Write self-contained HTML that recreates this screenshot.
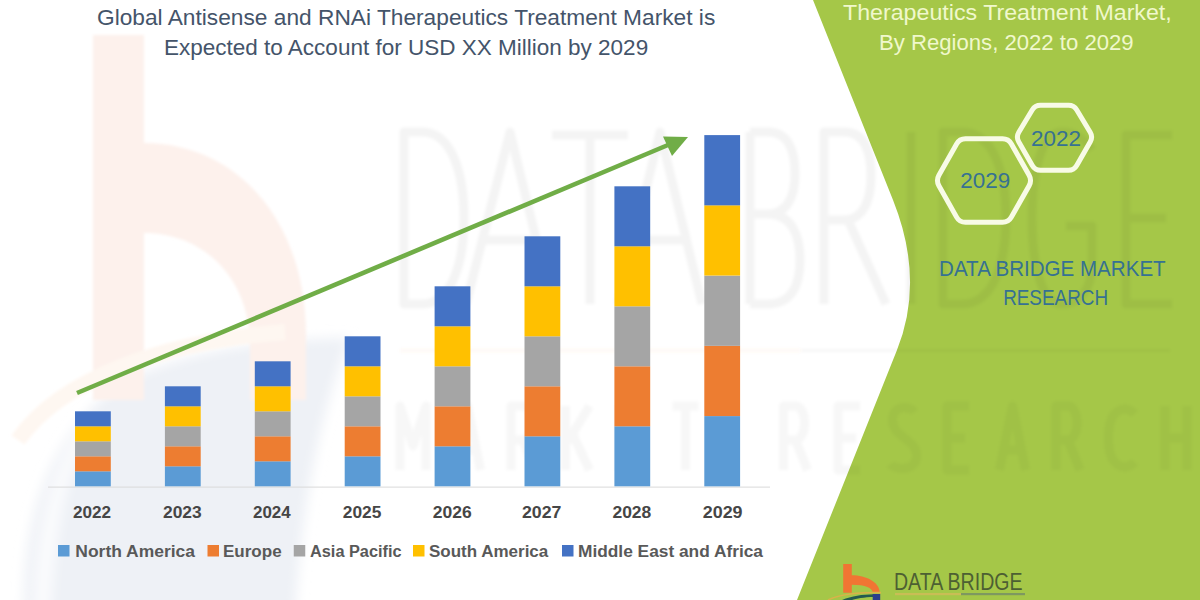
<!DOCTYPE html>
<html><head><meta charset="utf-8">
<style>
html,body{margin:0;padding:0;width:1200px;height:600px;overflow:hidden;background:#fff;}
svg{display:block;}
text{font-family:"Liberation Sans",sans-serif;}
</style></head>
<body>
<svg width="1200" height="600" viewBox="0 0 1200 600">
<rect x="0" y="0" width="1200" height="600" fill="#ffffff"/>
<g id="wm">
<defs><filter id="bl" x="-20%" y="-20%" width="140%" height="140%"><feGaussianBlur stdDeviation="1.5"/></filter><filter id="bl3" x="-20%" y="-20%" width="140%" height="140%"><feGaussianBlur stdDeviation="6"/></filter></defs>
<g filter="url(#bl3)">
<path d="M24,600 C24,500 60,420 130,378 C200,346 290,338 350,338 L340,365 C318,430 300,510 293,650 L24,650 Z" fill="#eef1f6"/>
<path d="M34,600 C36,520 55,460 85,420 L95,425 C70,465 52,520 50,650 L34,650 Z" fill="#fafbfd"/>
</g>
<g filter="url(#bl)">
<path d="M93,35 L144,35 L144,143 C236,143 306,220 306,335 L306,400 L250,400 L250,345 C250,280 205,233 144,233 L144,400 L93,400 Z" fill="#fdf1ec"/>
<path d="M18,440 C60,380 160,342 285,332" fill="none" stroke="#fef7f1" stroke-width="16"/>
</g>

</g>
<path d="M813,0 L893,200 Q925,280 897,350 L797,600 L1200,600 L1200,0 Z" fill="#a5c748"/>
<g id="wm2">
<defs><filter id="bl2" x="-10%" y="-10%" width="120%" height="120%"><feGaussianBlur stdDeviation="1.5"/></filter></defs>
<g filter="url(#bl2)">
<g fill="none" stroke="#000" stroke-opacity="0.045" stroke-width="9" stroke-linejoin="round">
<path d="M404,132 L404,304 L422,304 C452,304 464,262 464,218 C464,174 452,132 422,132 Z"/>
<path d="M466,304 L510,132 L552,304 M483,240 L536,240"/>
<path d="M552,135 L628,135 M590,135 L590,304"/>
<path d="M618,304 L660,132 L702,304 M634,240 L686,240"/>
<path d="M750,132 L750,304 M750,132 L768,132 C788,132 795,150 795,174 C795,198 786,214 768,214 L750,214 M768,214 C792,214 800,236 800,260 C800,288 790,304 768,304 L750,304"/>
<path d="M824,304 L824,132 L844,132 C864,132 871,150 871,176 C871,204 861,220 844,220 L824,220 M848,220 L886,304"/>
<path d="M911,132 L911,304"/>
<path d="M943,304 L943,132 L962,132 C994,132 1006,174 1006,218 C1006,262 994,304 962,304 Z"/>
<path d="M1092,150 C1084,138 1074,132 1062,132 C1042,132 1032,170 1032,218 C1032,266 1042,304 1062,304 C1080,304 1092,290 1092,262 L1092,226 L1066,226"/>
<path d="M1172,135 L1126,135 L1126,304 L1172,304 M1126,218 L1166,218"/>
</g>
<g fill="none" stroke="#000" stroke-opacity="0.03" stroke-width="9" stroke-linejoin="round">
<path d="M400.0,470 L400.0,406 L413.0,446.0 L426.0,406 L426.0,470"/>
<path d="M454.5,470 L467.5,406 L480.5,470 M460.5,450 L474.5,450"/>
<path d="M511.0,470 L511.0,406 L523.0,406 C535.0,406 535.0,440.0 523.0,440.0 L511.0,440.0 M523.0,440.0 L535.0,470"/>
<path d="M565.5,470 L565.5,406 M589.5,406 L567.5,442.0 M573.5,436.0 L589.5,470"/>
<path d="M642.0,406 L620.0,406 L620.0,470 L642.0,470 M620.0,438.0 L638.0,438.0"/>
<path d="M672.5,406 L698.5,406 M685.5,406 L685.5,470"/>
<path d="M783.5,470 L783.5,406 L795.5,406 C807.5,406 807.5,440.0 795.5,440.0 L783.5,440.0 M795.5,440.0 L807.5,470"/>
<path d="M860.0,406 L838.0,406 L838.0,470 L860.0,470 M838.0,438.0 L856.0,438.0"/>
<path d="M914.5,412 C910.5,406 892.5,404 892.5,420 C892.5,438.0 916.5,438.0 916.5,456 C916.5,472 894.5,470 890.5,464"/>
<path d="M969.0,406 L947.0,406 L947.0,470 L969.0,470 M947.0,438.0 L965.0,438.0"/>
<path d="M999.5,470 L1012.5,406 L1025.5,470 M1005.5,450 L1019.5,450"/>
<path d="M1056.0,470 L1056.0,406 L1068.0,406 C1080.0,406 1080.0,440.0 1068.0,440.0 L1056.0,440.0 M1068.0,440.0 L1080.0,470"/>
<path d="M1134.5,414 C1128.5,406 1108.5,404 1108.5,438.0 C1108.5,472 1128.5,470 1134.5,462"/>
<path d="M1165.0,406 L1165.0,470 M1187.0,406 L1187.0,470 M1165.0,438.0 L1187.0,438.0"/>
</g>
<rect x="400" y="349" width="400" height="3" fill="#f58a3c" fill-opacity="0.06"/>
<rect x="800" y="349" width="370" height="3" fill="#000" fill-opacity="0.03"/>

</g>
</g>
<text id="t1" x="96.98" y="24.5" font-size="22" fill="#44546a" textLength="618.31" lengthAdjust="spacingAndGlyphs">Global Antisense and RNAi Therapeutics Treatment Market is</text>
<text id="t2" x="163.98" y="54.5" font-size="22" fill="#44546a" textLength="484.18" lengthAdjust="spacingAndGlyphs">Expected to Account for USD XX Million by 2029</text>
<rect x="48" y="486.6" width="722" height="1" fill="#d9d9d9"/>
<g id="bars">
<rect x="75.0" y="471.3" width="35.8" height="15" fill="#5b9bd5"/>
<rect x="75.0" y="456.3" width="35.8" height="15" fill="#ed7d31"/>
<rect x="75.0" y="441.3" width="35.8" height="15" fill="#a5a5a5"/>
<rect x="75.0" y="426.3" width="35.8" height="15" fill="#ffc000"/>
<rect x="75.0" y="411.3" width="35.8" height="15" fill="#4472c4"/>
<rect x="164.9" y="466.3" width="35.8" height="20" fill="#5b9bd5"/>
<rect x="164.9" y="446.3" width="35.8" height="20" fill="#ed7d31"/>
<rect x="164.9" y="426.3" width="35.8" height="20" fill="#a5a5a5"/>
<rect x="164.9" y="406.3" width="35.8" height="20" fill="#ffc000"/>
<rect x="164.9" y="386.3" width="35.8" height="20" fill="#4472c4"/>
<rect x="254.8" y="461.3" width="35.8" height="25" fill="#5b9bd5"/>
<rect x="254.8" y="436.3" width="35.8" height="25" fill="#ed7d31"/>
<rect x="254.8" y="411.3" width="35.8" height="25" fill="#a5a5a5"/>
<rect x="254.8" y="386.3" width="35.8" height="25" fill="#ffc000"/>
<rect x="254.8" y="361.3" width="35.8" height="25" fill="#4472c4"/>
<rect x="344.7" y="456.3" width="35.8" height="30" fill="#5b9bd5"/>
<rect x="344.7" y="426.3" width="35.8" height="30" fill="#ed7d31"/>
<rect x="344.7" y="396.3" width="35.8" height="30" fill="#a5a5a5"/>
<rect x="344.7" y="366.3" width="35.8" height="30" fill="#ffc000"/>
<rect x="344.7" y="336.3" width="35.8" height="30" fill="#4472c4"/>
<rect x="434.6" y="446.3" width="35.8" height="40" fill="#5b9bd5"/>
<rect x="434.6" y="406.3" width="35.8" height="40" fill="#ed7d31"/>
<rect x="434.6" y="366.3" width="35.8" height="40" fill="#a5a5a5"/>
<rect x="434.6" y="326.3" width="35.8" height="40" fill="#ffc000"/>
<rect x="434.6" y="286.3" width="35.8" height="40" fill="#4472c4"/>
<rect x="524.5" y="436.3" width="35.8" height="50" fill="#5b9bd5"/>
<rect x="524.5" y="386.3" width="35.8" height="50" fill="#ed7d31"/>
<rect x="524.5" y="336.3" width="35.8" height="50" fill="#a5a5a5"/>
<rect x="524.5" y="286.3" width="35.8" height="50" fill="#ffc000"/>
<rect x="524.5" y="236.3" width="35.8" height="50" fill="#4472c4"/>
<rect x="614.4" y="426.3" width="35.8" height="60" fill="#5b9bd5"/>
<rect x="614.4" y="366.3" width="35.8" height="60" fill="#ed7d31"/>
<rect x="614.4" y="306.3" width="35.8" height="60" fill="#a5a5a5"/>
<rect x="614.4" y="246.3" width="35.8" height="60" fill="#ffc000"/>
<rect x="614.4" y="186.3" width="35.8" height="60" fill="#4472c4"/>
<rect x="704.3" y="416.1" width="35.8" height="70.25" fill="#5b9bd5"/>
<rect x="704.3" y="345.8" width="35.8" height="70.25" fill="#ed7d31"/>
<rect x="704.3" y="275.6" width="35.8" height="70.25" fill="#a5a5a5"/>
<rect x="704.3" y="205.3" width="35.8" height="70.25" fill="#ffc000"/>
<rect x="704.3" y="135.1" width="35.8" height="70.25" fill="#4472c4"/>
</g>
<line x1="77" y1="393" x2="668" y2="145" stroke="#70ad47" stroke-width="4.6"/>
<polygon points="688,137 663,136.5 672,156" fill="#70ad47"/>
<text id="x0" x="73.00" y="518" font-size="16" font-weight="bold" fill="#464646" textLength="38.08" lengthAdjust="spacingAndGlyphs">2022</text>
<text id="x1" x="163.00" y="518" font-size="16" font-weight="bold" fill="#464646" textLength="38.66" lengthAdjust="spacingAndGlyphs">2023</text>
<text id="x2" x="253.00" y="518" font-size="16" font-weight="bold" fill="#464646" textLength="37.68" lengthAdjust="spacingAndGlyphs">2024</text>
<text id="x3" x="342.78" y="518" font-size="16" font-weight="bold" fill="#464646" textLength="38.56" lengthAdjust="spacingAndGlyphs">2025</text>
<text id="x4" x="432.77" y="518" font-size="16" font-weight="bold" fill="#464646" textLength="38.86" lengthAdjust="spacingAndGlyphs">2026</text>
<text id="x5" x="522.03" y="518" font-size="16" font-weight="bold" fill="#464646" textLength="39.37" lengthAdjust="spacingAndGlyphs">2027</text>
<text id="x6" x="612.45" y="518" font-size="16" font-weight="bold" fill="#464646" textLength="38.86" lengthAdjust="spacingAndGlyphs">2028</text>
<text id="x7" x="702.77" y="518" font-size="16" font-weight="bold" fill="#464646" textLength="39.76" lengthAdjust="spacingAndGlyphs">2029</text>
<rect x="58" y="545" width="11.5" height="11.5" fill="#5b9bd5"/>
<rect x="207.5" y="545" width="11.5" height="11.5" fill="#ed7d31"/>
<rect x="293.75" y="545" width="11.5" height="11.5" fill="#a5a5a5"/>
<rect x="413" y="545" width="11.5" height="11.5" fill="#ffc000"/>
<rect x="562" y="545" width="11.5" height="11.5" fill="#4472c4"/>
<text id="l0" x="75.35" y="556.5" font-size="16" font-weight="bold" fill="#595959" textLength="119.63" lengthAdjust="spacingAndGlyphs">North America</text>
<text id="l1" x="222.98" y="556.5" font-size="16" font-weight="bold" fill="#595959" textLength="58.65" lengthAdjust="spacingAndGlyphs">Europe</text>
<text id="l2" x="310.00" y="556.5" font-size="16" font-weight="bold" fill="#595959" textLength="91.58" lengthAdjust="spacingAndGlyphs">Asia Pacific</text>
<text id="l3" x="428.98" y="556.5" font-size="16" font-weight="bold" fill="#595959" textLength="119.30" lengthAdjust="spacingAndGlyphs">South America</text>
<text id="l4" x="577.98" y="556.5" font-size="16" font-weight="bold" fill="#595959" textLength="185.00" lengthAdjust="spacingAndGlyphs">Middle East and Africa</text>
<text id="r1" x="843.03" y="20.4" font-size="22" fill="#f0f8cc" textLength="328.74" lengthAdjust="spacingAndGlyphs">Therapeutics Treatment Market,</text>
<text id="r2" x="879.00" y="49.5" font-size="22" fill="#f0f8cc" textLength="254.60" lengthAdjust="spacingAndGlyphs">By Regions, 2022 to 2029</text>
<path d="M938.9,175.3 L956.6,144.0 Q959.5,138.8 965.5,138.8 L1002.5,138.8 Q1008.5,138.8 1011.4,144.0 L1029.1,175.3 Q1032.0,180.5 1029.1,185.7 L1011.4,217.1 Q1008.5,222.3 1002.5,222.3 L965.5,222.3 Q959.5,222.3 956.6,217.1 L938.9,185.7 Q936.0,180.5 938.9,175.3 Z" fill="none" stroke="#f8fbe6" stroke-width="5"/>
<path d="M1018.8,132.3 L1032.2,110.0 Q1035.0,105.3 1040.5,105.3 L1068.5,105.3 Q1074.0,105.3 1076.8,110.0 L1090.2,132.3 Q1093.0,137.0 1090.3,141.8 L1076.7,165.5 Q1074.0,170.3 1068.5,170.3 L1040.5,170.3 Q1035.0,170.3 1032.3,165.5 L1018.7,141.8 Q1016.0,137.0 1018.8,132.3 Z" fill="none" stroke="#f8fbe6" stroke-width="5"/>
<text id="h29" x="960.20" y="188" font-size="22" fill="#367192" textLength="49.97" lengthAdjust="spacingAndGlyphs">2029</text>
<text id="h22" x="1030.99" y="145.5" font-size="22" fill="#367192" textLength="49.97" lengthAdjust="spacingAndGlyphs">2022</text>
<text id="d1" x="939.07" y="276" font-size="22" fill="#367192" textLength="226.62" lengthAdjust="spacingAndGlyphs">DATA BRIDGE MARKET</text>
<text id="d2" x="1003.14" y="305.2" font-size="22" fill="#367192" textLength="104.94" lengthAdjust="spacingAndGlyphs">RESEARCH</text>
<g id="logo">
<path d="M843.2,564 L851.8,564 L851.8,575.3 C866,575.3 879.5,582 879.8,592.7 L873,592.7 C872,588 866,584.8 851.8,584.8 L851.8,592.7 L843.2,592.7 Z" fill="#f07533"/>
<path d="M828,600 C842,593.5 858,592 881,592.6" fill="none" stroke="#d9b24a" stroke-width="1.6"/>
<path d="M842,600 C852,595.8 862,594.5 874,594.2 L874,597 C864,597.2 856,598.5 852,600 Z" fill="#245a50"/>
<rect x="872.7" y="594" width="7.5" height="6" fill="#2b3f8c"/>
<text x="894" y="590" font-size="23" fill="#4d5f33" textLength="128.5" lengthAdjust="spacingAndGlyphs">DATA BRIDGE</text>
<rect x="895" y="593" width="66" height="2.2" fill="#c9bd55"/>
<rect x="961" y="593" width="64" height="2.2" fill="#7e9860"/>

</g>
</svg>
</body></html>
